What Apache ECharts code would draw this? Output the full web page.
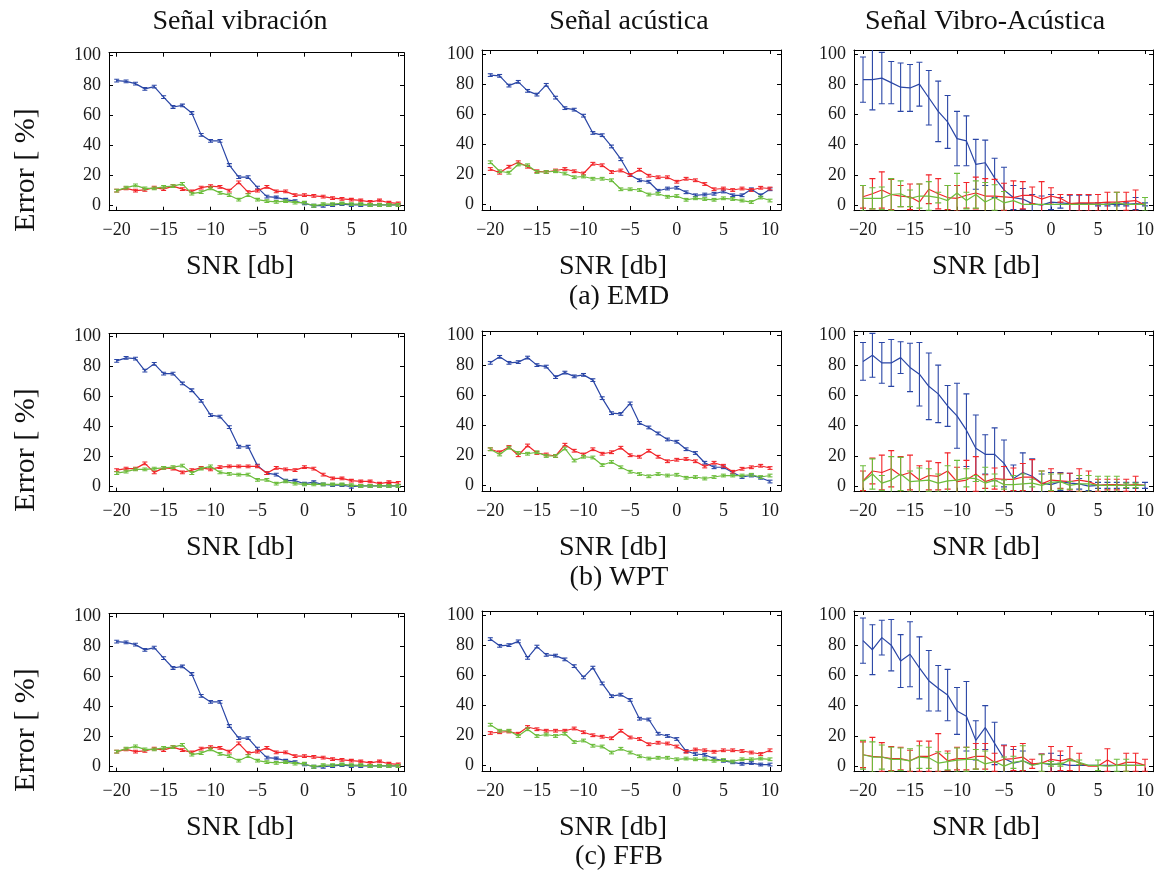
<!DOCTYPE html>
<html><head><meta charset="utf-8">
<script src="https://cdn.jsdelivr.net/npm/echarts@6/dist/echarts.min.js"></script>
<style>html,body{margin:0;padding:0;background:#fff}#c{width:1163px;height:880px}</style>
</head><body><div id="c"></div><script>
// ---------- data ----------
const snr = [-20,-19,-18,-17,-16,-15,-14,-13,-12,-11,-10,-9,-8,-7,-6,-5,-4,-3,-2,-1,0,1,2,3,4,5,6,7,8,9,10];
const xTicks = [-20,-15,-10,-5,0,5,10];
const yTicks = [0,20,40,60,80,100];
const colTitles = ['Señal vibración','Señal acústica','Señal Vibro-Acústica'];
const rowCaptions = ['(a) EMD','(b) WPT','(c) FFB'];
const xLabel = 'SNR [db]';
const yLabel = 'Error [ %]';
const smallErr = 0.9;

// EMD
const emdVibBlue  = [83,82.5,81,77.5,79,72,65.5,66.5,61.5,47,43,43,27,19,19,12,6,5.5,4,3,1.5,0,0,0.5,1,0.5,0.5,0.5,0.5,0.5,0.5];
const emdVibRed   = [10,11.5,10,10.5,12,11,13,11,9.5,12,13,12.5,10,15.5,9,10,12.5,9.5,9.5,7,7,6.5,6,5,4.5,4,3.5,2.5,3.5,2,1.5];
const emdVibGreen = [10,12,13.5,11.5,11.5,12.5,13,14.5,8,9,11.5,8.5,7,4,7,4,3,2.5,3,2,2,0,1,1,1.5,1,1,0.5,0.5,0.5,0.5];
const emdAcuBlue  = [86,85.5,79,81.5,75.5,73,79.5,71,64,63,59,47.5,46,38.5,30,19.5,16,15,9,10.5,11,8,6,6.5,7,8.5,6,6,10,6,10];
const emdAcuRed   = [23.5,21,25,28,25,22,21.5,22.5,23.5,22,20.5,27,26,21.5,22.5,19.5,23,19,18,18,15,17,16,13.5,10,10.5,9.5,10.5,9.5,11,10.5];
const emdAcuGreen = [28,22,21,26.5,26,21.5,21.5,22,20.5,18,18.5,17,17,16,10,10,9.5,6.5,7,5,5.5,3,4,3.5,3,4,3.5,2.5,1.5,4.5,2.5];
const emdVaBlue      = [83,83,84,81,78,77.5,80,71,62,55,44,42.5,27,28,18,10,5,4,1,0,2,1.5,1,1,1,0.5,0.5,0.5,0.5,1,0.5];
const emdVaBlueErr   = [15,20,17,14,16,15.5,14.5,18,20,17.5,18,16.5,16.5,15,13,15,8,7,6,6,5,3.5,5.5,5.5,5.5,1,1,1,1,4,1];
const emdVaRed       = [5.5,7.5,10,7,6,5.5,2,10.5,7.5,5,4.5,6.5,8,6,6,5.5,5,6.5,6.5,4,6,4.5,1,1.5,1.5,1.5,2,2,2.5,3,0];
const emdVaRedErr    = [7.5,10,12,10,7,8.5,12,9.5,10,8,8.5,8.5,10.5,11.5,11,9,11,9,5.5,11.5,5.5,2.5,6,5.5,5.5,5.5,6.5,6.5,6,7,0];
const emdVaGreen     = [4.5,4.5,4.5,7,7.5,4.5,6,6,5,3,8,3,7,2,5,1.5,3,0.5,0.5,0.5,0.5,0.5,0.5,0.5,0.5,0.5,0.5,1.5,0.5,0.5,0.5];
const emdVaGreenErr  = [8.5,7,7.5,10.5,8.5,5.5,8,9.5,3.5,10,13,5.5,9,13,8.5,7.5,0,0,0,0,0,0,0,0,0,0,0,7,0,0,4.5];

// WPT
const wptVibBlue  = [83.5,85.5,85,77,81.5,75,75,68.5,64,57,47.5,46.5,39.5,26.5,26.5,14,9,8,4,4,2,3,1.5,1,1,0,0.5,0.5,0.5,0.5,0.5];
const wptVibRed   = [11,12,12,15.5,9.5,12.5,12,9.5,11,12.5,11.5,13,13.5,13.5,13.5,13.5,9,12.5,11.5,11,13,12,8,5.5,5.5,4,3.5,3.5,2,3,2.5];
const wptVibGreen = [9,10,11.5,11.5,12,12.5,13,14,9,12,13.5,9.5,8.5,8,8,4.5,4.5,2,3.5,2,1.5,1.5,1.5,1.5,1.5,1,0.5,0.5,0.5,0.5,0.5];
const wptAcuBlue  = [81.5,85.5,81.5,82,85,80,79,72,75,72.5,73.5,70,58,48,47.5,54.5,41.5,38.5,34.5,30.5,29,24,21.5,15,12,12,8.5,5.5,6.5,5,2.5];
const wptAcuRed   = [24,22,25.5,20,26.5,21.5,20.5,19.5,27,23,20.5,24,21,22,25,20,19,23,19,16,17,17.5,16,12.5,15,13,9,11,12,13,11.5];
const wptAcuGreen = [24,20.5,25,21.5,21,22,19.5,19.5,24.5,16.5,19,18.5,13.5,15.5,12,9,7.5,6,7.5,6.5,7,5,5.5,4.5,5.5,6.5,6.5,6.5,7,5.5,6.5];
const wptVaBlue      = [82.5,86.5,81.5,81.5,85,78.5,74,66,61,53,46.5,37,25,21,21,15,5,9,6.5,2,1,3,2,1.5,0,0.5,0.5,0.5,0.5,0.5,0.5];
const wptVaBlueErr   = [12.5,14.5,13.5,15.5,10.5,16,21,22,19,13.5,21.5,24,22,13,17.5,15.5,9,13,11.5,6,8,6,6.5,3.5,3,2,2,2,2,2,2];
const wptVaRed       = [3.5,10,9,11.5,7,9,4,7,6.5,10,3,4,8,3,5,4.5,4.5,6,6,1.5,4,3.5,3,4,3,0.5,1,1,0.5,1,0.5];
const wptVaRedErr    = [6.5,8.5,11.5,12,12.5,11.5,9.5,9.5,9,12,9.5,13,11.5,4.5,7,8.5,7.5,9,11.5,8.5,7.5,5,5.5,7.5,7,4,3.5,3.5,4,5.5,0];
const wptVaGreen     = [3,8,2,4,8,3,3.5,4,2,3.5,4,5.5,5,2,4,1,1,1.5,2,0.5,2.5,3,0.5,1.5,1.5,0.5,0.5,0.5,0.5,0.5,0.5];
const wptVaGreenErr  = [10.5,10,5,15.5,11,7,8.5,7.5,6,10,13,6,2,10.5,4,3,6,6.5,2.5,9.5,5.5,5,2.5,5.5,5.5,6,6,6,1.5,1.5,0];

// FFB
const ffbVibBlue  = [83,82.5,81,77.5,79,72,65.5,66.5,61.5,47,43,43,27,19,19,12,6,5.5,4,3,1.5,0,0,0.5,1,0.5,0.5,0.5,0.5,0.5,0.5];
const ffbVibRed   = [10,11.5,10,10.5,12,11,13,11,9.5,12,13,12.5,10,15.5,9,10,12.5,9.5,9.5,7,7,6.5,6,5,4.5,4,3.5,2.5,3.5,2,1.5];
const ffbVibGreen = [10,12,13.5,11.5,11.5,12.5,13,14.5,8,9,11.5,8.5,7,4,7,4,3,2.5,3,2,2,0,1,1,1.5,1,1,0.5,0.5,0.5,0.5];
const ffbAcuBlue  = [84,79.5,80,82.5,71.5,79,73.5,73,70.5,66,58.5,65,54.5,46,47,43.5,31,30.5,21,19.5,17.5,9.5,7.5,7,4.5,3,2,1,1.5,0.5,0.5];
const ffbAcuRed   = [21.5,22,22.5,21,25.5,24,23,23,23,24.5,22,20,19,18,23,18.5,17.5,14,15,14.5,12.5,9,10.5,10,9,10,10,9.5,8.5,7.5,10];
const ffbAcuGreen = [27,23,23,19.5,24,19.5,20.5,19.5,21,15.5,16.5,13,12.5,8.5,11,8.5,6,4.5,5,5,4,4.5,4,4,3,3.5,2.5,4,4,4.5,4];
const ffbVaBlue      = [83,77,85,80,69.5,74,65,56.5,51.5,47,36.5,33,17,25.5,15,5,2,3.5,1,2,1,1.5,0.5,0.5,0.5,0.5,0.5,0.5,0.5,0.5,0.5];
const ffbVaBlueErr   = [15,16.5,11.5,17,17.5,21.5,20.5,20,15,17,15.5,23,13,14.5,14,9,9,6.5,0,6,7.5,5.5,0,0,0,0,0,0,0,0,0];
const ffbVaRed       = [7.5,6.5,6,5,5,3.5,6.5,6.5,9,3.5,5,5,6.5,6.5,2.5,4.5,5,6,1.5,2,4.5,3.5,5,2,0,0,4,0.5,2.5,2.5,0.5];
const ffbVaRedErr    = [8.5,12.5,9.5,8,7.5,7,10,10,12.5,6.5,7.5,7.5,8.5,8.5,6,9,8,9,3,6,8.5,6.5,8,6.5,0,0,7.5,0,6,6,4];
const ffbVaGreen     = [7.5,6,6,4.5,4.5,3.5,6,5.5,2,3,4,4.5,4.5,1.5,3,0,2.5,3.5,0.5,2,1.5,1,4,2.5,0.5,0.5,0,0.5,0.5,0.5,0.5];
const ffbVaGreenErr  = [9.5,10,8,8,7.5,8,7.5,7,7.5,5.5,8,8,6.5,8.5,0,6,4,10,0,5.5,1.5,1,0.5,1.5,0,3.5,0,4,4,0,0];

// ---------- styling / layout ----------
const COLORS = {blue:'#2a46a6', red:'#f2252a', green:'#6cbd3c'};
const FONT = '"Liberation Serif","Times New Roman",serif';
const cols = [
  {left:109, width:295, xmin:-20.82, xmax:10.61, top:52.7, height:158,   ymin:-3.3, ymax:101.5},
  {left:482, width:299, xmin:-20.89, xmax:11.18, top:50,   height:160,   ymin:-3.8, ymax:102.7},
  {left:854, width:299, xmin:-20.96, xmax:10.85, top:50,   height:160.7, ymin:-3.7, ymax:102.6}
];
const rowOff = [0, 281, 561];
const titleX = [240, 629, 985];
const xlabX = [240, 613, 986];

const panels = [
  [[emdVibBlue,null],[emdVibRed,null],[emdVibGreen,null]],
  [[emdAcuBlue,null],[emdAcuRed,null],[emdAcuGreen,null]],
  [[emdVaBlue,emdVaBlueErr],[emdVaRed,emdVaRedErr],[emdVaGreen,emdVaGreenErr]],
  [[wptVibBlue,null],[wptVibRed,null],[wptVibGreen,null]],
  [[wptAcuBlue,null],[wptAcuRed,null],[wptAcuGreen,null]],
  [[wptVaBlue,wptVaBlueErr],[wptVaRed,wptVaRedErr],[wptVaGreen,wptVaGreenErr]],
  [[ffbVibBlue,null],[ffbVibRed,null],[ffbVibGreen,null]],
  [[ffbAcuBlue,null],[ffbAcuRed,null],[ffbAcuGreen,null]],
  [[ffbVaBlue,ffbVaBlueErr],[ffbVaRed,ffbVaRedErr],[ffbVaGreen,ffbVaGreenErr]]
];
const colorOrder = ['blue','red','green'];

function errRender(color, capHalf){
  return function(params, api){
    const x = api.value(0), y = api.value(1), e = api.value(2);
    if (!(e > 0)) return null;
    const t = api.coord([x, y + e]), b = api.coord([x, y - e]);
    const st = {stroke: color, lineWidth: 1.1};
    return {type:'group', children:[
      {type:'line', shape:{x1:t[0], y1:t[1], x2:b[0], y2:b[1]}, style:st},
      {type:'line', shape:{x1:t[0]-capHalf, y1:t[1], x2:t[0]+capHalf, y2:t[1]}, style:st},
      {type:'line', shape:{x1:b[0]-capHalf, y1:b[1], x2:b[0]+capHalf, y2:b[1]}, style:st}
    ]};
  };
}

const grids = [], xAxes = [], yAxes = [], series = [];
const N = 9;
for (let p = 0; p < N; p++) {
  const c = cols[p % 3], r = Math.floor(p / 3);
  grids.push({left:c.left, top:c.top + rowOff[r], width:c.width, height:c.height, containLabel:false});
}
const axLine = {show:true, onZero:false, lineStyle:{color:'#000', width:1}};
const tick = (vals) => ({show:true, inside:true, length:4, customValues:vals, lineStyle:{color:'#000', width:1}});
for (let p = 0; p < N; p++) {
  const c = cols[p % 3];
  xAxes.push({type:'value', gridIndex:p, position:'bottom', min:c.xmin, max:c.xmax,
    axisLine:axLine, axisTick:tick(xTicks), splitLine:{show:false},
    axisLabel:{show:true, customValues:xTicks, margin:11, color:'#1a1a1a', fontFamily:FONT, fontSize:18,
      formatter:v => String(v).replace('-', '\u2212')}});
  yAxes.push({type:'value', gridIndex:p, position:'left', min:c.ymin, max:c.ymax,
    axisLine:axLine, axisTick:tick(yTicks), splitLine:{show:false},
    axisLabel:{show:true, customValues:yTicks, margin:8, color:'#1a1a1a', fontFamily:FONT, fontSize:18}});
}
for (let p = 0; p < N; p++) {
  const c = cols[p % 3];
  xAxes.push({type:'value', gridIndex:p, position:'top', min:c.xmin, max:c.xmax,
    axisLine:axLine, axisTick:tick(xTicks), axisLabel:{show:false}, splitLine:{show:false}});
  yAxes.push({type:'value', gridIndex:p, position:'right', min:c.ymin, max:c.ymax,
    axisLine:axLine, axisTick:tick(yTicks), axisLabel:{show:false}, splitLine:{show:false}});
}

for (let p = 0; p < N; p++) {
  const isVA = (p % 3) === 2;
  panels[p].forEach(([vals, errs], k) => {
    const color = COLORS[colorOrder[k]];
    series.push({type:'line', xAxisIndex:p, yAxisIndex:p, symbol:'none', silent:true, animation:false,
      lineStyle:{color:color, width:1.2}, itemStyle:{color:color}, clip:true, z:2+k,
      data:snr.map((x,i)=>[x, vals[i]])});
    series.push({type:'custom', xAxisIndex:p, yAxisIndex:p, silent:true, animation:false, clip:true, z:2+k,
      renderItem: errRender(color, isVA ? 3 : 2.5),
      data:snr.map((x,i)=>[x, vals[i], errs ? errs[i] : smallErr])});
  });
}

// ---------- texts ----------
const graphic = [];
const txt = (x, y, s, size, rot) => ({type:'text', x:x, y:y, rotation:rot||0, silent:true,
  style:{text:s, fill:'#111', font:`${size}px ${FONT}`, textAlign:'center', textVerticalAlign:'middle'}});
for (let k = 0; k < 3; k++) graphic.push(txt(titleX[k], 22, colTitles[k], 28));
const xlabY = [267, 548, 828], capY = [297, 578, 857], ylabY = [170, 450, 730];
for (let r = 0; r < 3; r++) {
  for (let k = 0; k < 3; k++) graphic.push(txt(xlabX[k], xlabY[r], xLabel, 28));
  graphic.push(txt(619, capY[r], rowCaptions[r], 28));
  graphic.push(txt(26, ylabY[r], yLabel, 30, Math.PI/2));
}

const chart = echarts.init(document.getElementById('c'), null, {renderer:'canvas'});
chart.setOption({
  backgroundColor:'#fff', animation:false,
  grid:grids, xAxis:xAxes, yAxis:yAxes, series:series, graphic:graphic
});
</script></body></html>
